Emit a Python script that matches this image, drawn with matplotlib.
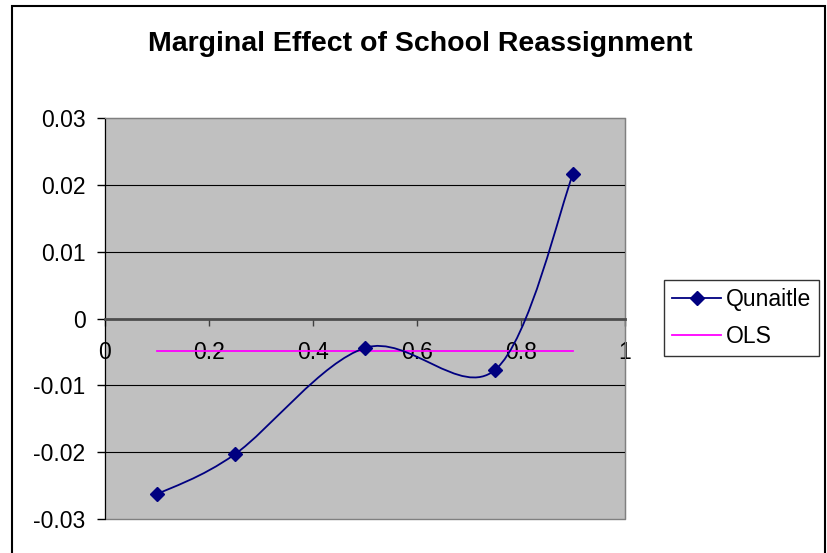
import matplotlib
matplotlib.use("Agg")
import matplotlib.pyplot as plt
from matplotlib.path import Path
from matplotlib.patches import PathPatch, Rectangle
from matplotlib.lines import Line2D
import numpy as np

plt.rcParams['font.family'] = ['Liberation Sans', 'DejaVu Sans']

# data
quantiles = [0.1, 0.25, 0.5, 0.75, 0.9]
effects = [-0.0263, -0.0203, -0.0044, -0.0077, 0.0216]
ols_x = [0.1, 0.9]
ols_y = [-0.0049, -0.0049]
xticks = [0, 0.2, 0.4, 0.6, 0.8, 1]
xticklabels = ['0', '0.2', '0.4', '0.6', '0.8', '1']
yticks = [-0.03, -0.02, -0.01, 0, 0.01, 0.02, 0.03]
yticklabels = ['-0.03', '-0.02', '-0.01', '0', '0.01', '0.02', '0.03']

navy = '#000080'
magenta = '#FF00FF'

fig = plt.figure(figsize=(8.28, 5.53), dpi=100)
ax = fig.add_axes([105/828, 1-519/553, 520/828, 401/553])
ax.set_facecolor('#C0C0C0')
ax.set_xlim(0, 1)
ax.set_ylim(-0.03, 0.03)

# horizontal gridlines
for v in yticks[1:-1]:
    if v != 0:
        ax.axhline(v, color='black', lw=0.8, zorder=1)

# smoothed line (Excel style bezier through the points)
pts = np.column_stack([quantiles, effects])
n = len(pts)
verts = [pts[0]]
codes = [Path.MOVETO]
for i in range(n-1):
    p_prev = pts[max(i-1, 0)]
    p0 = pts[i]
    p1 = pts[i+1]
    p_next = pts[min(i+2, n-1)]
    verts += [p0 + (p1-p_prev)/6, p1 - (p_next-p0)/6, p1]
    codes += [Path.CURVE4]*3
ax.add_patch(PathPatch(Path(verts, codes), facecolor='none', edgecolor=navy, lw=1.3, zorder=3))
ax.plot(quantiles, effects, ls='none', marker='D', color=navy, ms=7.5, zorder=4)

ax.plot(ols_x, ols_y, color=magenta, lw=1.3, zorder=2)

# y axis
ax.set_yticks(yticks)
ax.set_yticklabels(yticklabels)
ax.tick_params(axis='y', direction='out', length=6, width=1, pad=8, labelsize=16.5)
for s in ['top', 'right']:
    ax.spines[s].set_color('#808080')
ax.spines['left'].set_color('black')

# x axis along y = 0
ax.spines['bottom'].set_position(('data', 0))
ax.spines['bottom'].set_color('#4d4d4d')
ax.spines['bottom'].set_linewidth(2)
ax.set_xticks(xticks)
ax.set_xticklabels(xticklabels)
ax.tick_params(axis='x', direction='out', length=5, width=1, pad=11, labelsize=16.5, color='#404040')
ax.add_patch(Rectangle((0, 0), 1, 1, transform=ax.transAxes, fill=False,
                       edgecolor='#808080', lw=1, clip_on=False, zorder=0.5))

fig.text(420/828, 1-44/553, 'Marginal Effect of School Reassignment',
         ha='center', va='center', fontsize=20.5, fontweight='bold')

handles = [Line2D([], [], color=navy, marker='D', ms=7.5, lw=1.3),
           Line2D([], [], color=magenta, lw=1.3)]
leg = fig.legend(handles, ['Qunaitle', 'OLS'], loc='upper left',
                 bbox_to_anchor=(664/828, 1-280/553), fontsize=16.5,
                 frameon=True, fancybox=False, edgecolor='black',
                 borderaxespad=0, borderpad=0.35, handlelength=2.15,
                 handletextpad=0.2, labelspacing=0.62)
leg.get_frame().set_linewidth(1)

fig.patches.append(Rectangle((12/828, -0.05), 813/828, 1.05-6/553,
                             transform=fig.transFigure, fill=False,
                             edgecolor='black', lw=1.5))

fig.savefig('out.png', dpi=100)
